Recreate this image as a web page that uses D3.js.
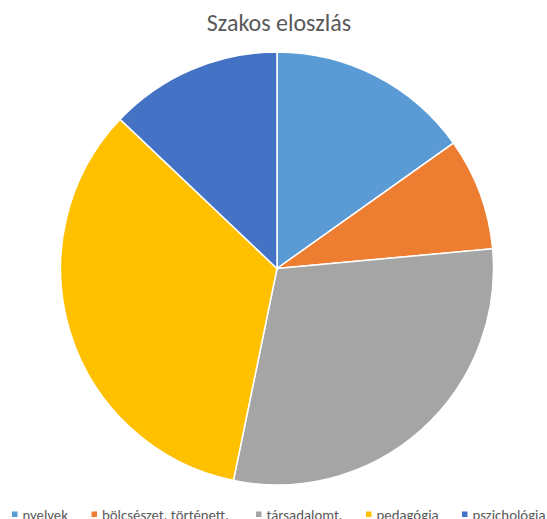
<!DOCTYPE html>
<html><head><meta charset="utf-8">
<script src="https://cdn.jsdelivr.net/npm/d3@7"></script>
<style>html,body{margin:0;padding:0;background:#fff;overflow:hidden}</style>
</head><body>
<svg id="c" width="547" height="519"></svg>
<script>
const categories = ["nyelvek", "bölcsészet. történett.", "társadalomt.", "pedagógia", "pszichológia"];
const values = [47, 26, 92, 105, 40];
const colors = ["#5B9BD5", "#ED7D31", "#A5A5A5", "#FFC000", "#4472C4"];
const title = "Szakos eloszlás";

const svg = d3.select("#c");
const font = "Carlito, 'Liberation Sans', Arial, sans-serif";
svg.append("text").attr("x", 279).attr("y", 31).attr("text-anchor", "middle")
  .attr("font-family", font).attr("font-size", 24).attr("fill", "#595959").text(title);

const pie = d3.pie().sort(null).value(d => d)(values);
const arc = d3.arc().innerRadius(0).outerRadius(216.5);
const g = svg.append("g").attr("transform", "translate(277,268.5)");
g.selectAll("path").data(pie).join("path")
  .attr("d", arc).attr("fill", (d, i) => colors[i])
  .attr("stroke", "#fff").attr("stroke-width", 1.5);

const legendX = [12, 91.5, 256, 366, 462];
const leg = svg.append("g");
categories.forEach((c, i) => {
  leg.append("rect").attr("x", legendX[i]).attr("y", 511.5).attr("width", 5.5).attr("height", 5.5).attr("fill", colors[i]);
  leg.append("text").attr("x", legendX[i] + 10.5).attr("y", 520).attr("font-family", font)
    .attr("font-size", 14.8).attr("fill", "#595959").text(c);
});
</script>
</body></html>
